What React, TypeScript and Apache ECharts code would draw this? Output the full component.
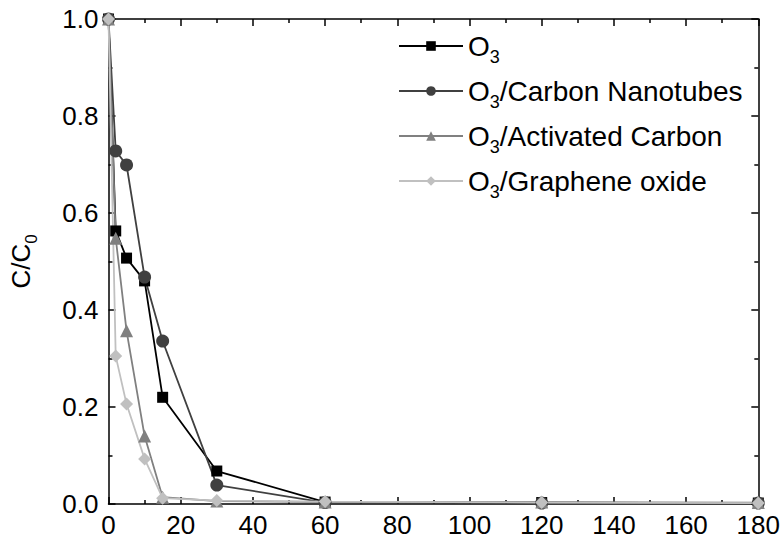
import React, { useEffect, useRef } from "react";
import * as echarts from "echarts";

const times = [0, 2, 5, 10, 15, 30, 60, 120, 180];
const o3 = [1.0, 0.563, 0.507, 0.46, 0.22, 0.068, 0.004, 0.003, 0.002];
const cnt = [1.0, 0.728, 0.699, 0.468, 0.336, 0.039, 0.003, 0.002, 0.002];
const ac = [1.0, 0.548, 0.357, 0.14, 0.014, 0.006, 0.004, 0.004, 0.003];
const go = [1.0, 0.305, 0.206, 0.093, 0.012, 0.007, 0.005, 0.003, 0.002];

const seriesNames = ["O3", "O3/Carbon Nanotubes", "O3/Activated Carbon", "O3/Graphene oxide"];
const seriesData = [o3, cnt, ac, go];
const colors = ["#000000", "#404040", "#808080", "#c0c0c0"];
const symbols = ["rect", "circle", "triangle", "diamond"];
const symbolSizes = [11, 13, 13, 13];

const FONT = "Liberation Sans, Arial, sans-serif";

export default function App() {
  const ref = useRef<HTMLDivElement>(null);
  useEffect(() => {
    if (!ref.current) return;
    const chart = echarts.init(ref.current, null, { renderer: "svg" });
    const axisLine = { show: true, onZero: false, lineStyle: { color: "#000", width: 1.5 } };
    const tick = { show: true, inside: true, length: 7, lineStyle: { color: "#000", width: 1.5 } };
    const minor = { show: true, splitNumber: 2, length: 4, lineStyle: { color: "#000", width: 1.5 } };
    chart.setOption({
      animation: false,
      backgroundColor: "#fff",
      grid: { left: 108, right: 24, top: 19, bottom: 39, containLabel: false },
      legend: {
        orient: "vertical",
        left: 393,
        top: 27,
        itemWidth: 64,
        itemHeight: 12,
        itemGap: 11,
        data: seriesNames,
        formatter: (n: string) => n.replace("O3", "O{sub|3}"),
        textStyle: {
          fontFamily: FONT,
          fontSize: 28,
          color: "#000",
          rich: {
            sub: { fontFamily: FONT, fontSize: 18, color: "#000", padding: [22, 0, 0, 0] },
          },
        },
      },
      xAxis: [
        {
          type: "value",
          min: 0,
          max: 180,
          interval: 20,
          axisLine,
          axisTick: tick,
          minorTick: minor,
          splitLine: { show: false },
          axisLabel: { fontFamily: FONT, fontSize: 26, color: "#000", margin: 8 },
        },
        {
          type: "value",
          position: "top",
          min: 0,
          max: 180,
          interval: 20,
          axisLine,
          axisTick: tick,
          minorTick: minor,
          splitLine: { show: false },
          axisLabel: { show: false },
        },
      ],
      yAxis: [
        {
          type: "value",
          min: 0,
          max: 1,
          interval: 0.2,
          name: "C/C{sub|0}",
          nameLocation: "middle",
          nameGap: 69,
          nameTextStyle: {
            fontFamily: FONT,
            fontSize: 26,
            color: "#000",
            rich: { sub: { fontFamily: FONT, fontSize: 17, color: "#000", padding: [20, 0, 0, 0] } },
          },
          axisLine,
          axisTick: tick,
          minorTick: minor,
          splitLine: { show: false },
          axisLabel: {
            fontFamily: FONT,
            fontSize: 26,
            color: "#000",
            margin: 10,
            formatter: (v: number) => v.toFixed(1),
          },
        },
        {
          type: "value",
          position: "right",
          min: 0,
          max: 1,
          interval: 0.2,
          axisLine,
          axisTick: tick,
          minorTick: minor,
          splitLine: { show: false },
          axisLabel: { show: false },
        },
      ],
      series: seriesNames.map((name, i) => ({
        name,
        type: "line",
        xAxisIndex: 0,
        yAxisIndex: 0,
        data: times.map((t, j) => [t, seriesData[i][j]]),
        symbol: symbols[i],
        symbolSize: symbolSizes[i],
        showAllSymbol: true,
        clip: false,
        itemStyle: { color: colors[i] },
        lineStyle: { color: colors[i], width: 1.8 },
      })),
    });
    return () => chart.dispose();
  }, []);
  return (
    <div
      ref={ref}
      style={{ position: "fixed", left: 0, top: 0, width: 783, height: 543 }}
    />
  );
}
